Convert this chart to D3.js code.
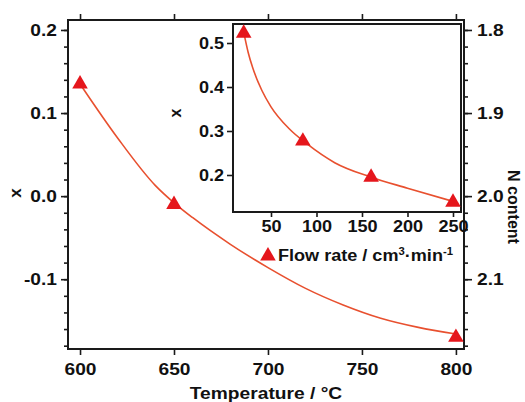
<!DOCTYPE html>
<html><head><meta charset="utf-8">
<script src="https://cdn.jsdelivr.net/npm/d3@7"></script>
<style>
html,body{margin:0;padding:0;background:#fff;}
text{font-family:"Liberation Sans",Arial,sans-serif;font-weight:bold;fill:#111;}
</style></head>
<body>
<svg id="c" width="525" height="402"></svg>
<script>
// ---- data ----
const mainT = [600, 650, 700, 800];
const mainX = [0.135, -0.010, -0.072, -0.170];
const fitT = [600, 620, 640, 650, 660, 680, 700, 720, 740, 760, 780, 800];
const fitX = [0.135, 0.070, 0.013, -0.008, -0.026, -0.058, -0.086, -0.111, -0.131, -0.147, -0.158, -0.166];
const flow = [20, 85, 160, 250];
const flowX = [0.522, 0.277, 0.195, 0.138];
const fitFlow = [20, 25, 30, 40, 50, 70, 90, 120, 160, 200, 250];
const fitFlowX = [0.525, 0.478, 0.443, 0.392, 0.355, 0.305, 0.270, 0.228, 0.195, 0.170, 0.140];
const tTicks = [600, 650, 700, 750, 800];
const xTicks = [-0.1, 0.0, 0.1, 0.2];
const nTicks = [1.8, 1.9, 2.0, 2.1];
const flowTicks = [50, 100, 150, 200, 250];
const insetXTicks = [0.2, 0.3, 0.4, 0.5];

const svg = d3.select("#c");
const STRETCH = 1.13;
const lineCol = "#e8502f", markCol = "#e5161c", frameCol = "#1a1a1a";

// main layout
const M = {l: 68, r: 464, t: 20, b: 349};
const x = d3.scaleLinear().domain([593.6, 804.3]).range([M.l, M.r]);
const y = d3.scaleLinear().domain([-0.184, 0.212]).range([M.b, M.t]);
const yN = d3.scaleLinear().domain([1.788, 2.184]).range([M.t, M.b]);

const fmt1 = d => d.toFixed(1);
const minorX = d3.range(-0.18, 0.2101, 0.02).map(v => +v.toFixed(2));
const minorN = d3.range(1.80, 2.181, 0.02).map(v => +v.toFixed(2));

function style(g, size) {
  g.select(".domain").remove();
  g.selectAll("line").attr("stroke", frameCol).attr("stroke-width", 1.6);
  g.selectAll("text").attr("font-size", size).attr("class", "h");
}

// left axis
svg.append("g").attr("transform", `translate(${M.l},0)`)
  .call(d3.axisLeft(y).tickValues(minorX).tickSize(4).tickFormat(""))
  .call(g => style(g, 17));
svg.append("g").attr("transform", `translate(${M.l},0)`)
  .call(d3.axisLeft(y).tickValues(xTicks).tickSize(7).tickPadding(4).tickFormat(fmt1))
  .call(g => style(g, 17));
// right axis
svg.append("g").attr("transform", `translate(${M.r},0)`)
  .call(d3.axisRight(yN).tickValues(minorN).tickSize(4).tickFormat(""))
  .call(g => style(g, 17));
svg.append("g").attr("transform", `translate(${M.r},0)`)
  .call(d3.axisRight(yN).tickValues(nTicks).tickSize(8).tickPadding(5).tickFormat(fmt1))
  .call(g => style(g, 17));
// bottom axis
svg.append("g").attr("transform", `translate(0,${M.b})`)
  .call(d3.axisBottom(x).tickValues(tTicks).tickSize(6).tickPadding(8).tickFormat(d3.format("d")))
  .call(g => style(g, 17));
// top ticks
svg.append("g").attr("transform", `translate(0,${M.t})`)
  .call(d3.axisTop(x).tickValues(tTicks).tickSize(6).tickFormat(""))
  .call(g => style(g, 17));

// frame
svg.append("rect").attr("x", M.l).attr("y", M.t).attr("width", M.r - M.l).attr("height", M.b - M.t)
  .attr("fill", "none").attr("stroke", frameCol).attr("stroke-width", 2);

// main curve
const line = d3.line().x((d, i) => x(fitT[i])).y(d => y(d)).curve(d3.curveMonotoneX);
svg.append("path").datum(fitX).attr("d", line).attr("fill", "none")
  .attr("stroke", lineCol).attr("stroke-width", 1.6);
const tri = d3.symbol().type(d3.symbolTriangle).size(105);
svg.selectAll(".m1").data(mainT).join("path").attr("class", "m1")
  .attr("transform", (d, i) => `translate(${x(d)},${y(mainX[i])})`)
  .attr("d", tri).attr("fill", markCol);

// axis titles
svg.append("text").attr("class", "h").attr("x", 266).attr("y", 399).attr("text-anchor", "middle")
  .attr("font-size", 17).text("Temperature / °C");
svg.append("text").attr("transform", "translate(21,193) rotate(-90)").attr("text-anchor", "middle")
  .attr("font-size", 17).text("x");
svg.append("text").attr("transform", "translate(508,207) rotate(90)").attr("text-anchor", "middle")
  .attr("font-size", 16).text("N content");

// ---- inset ----
const I = {l: 233, r: 461, t: 24, b: 212};
const ix = d3.scaleLinear().domain([8.24, 258.8]).range([I.l, I.r]);
const iy = d3.scaleLinear().domain([0.1159, 0.5432]).range([I.b, I.t]);
svg.append("rect").attr("x", I.l).attr("y", I.t).attr("width", I.r - I.l).attr("height", I.b - I.t)
  .attr("fill", "#fff").attr("stroke", "none");
svg.append("g").attr("transform", `translate(${I.l},0)`)
  .call(d3.axisLeft(iy).tickValues(insetXTicks).tickSize(6).tickPadding(3).tickFormat(fmt1))
  .call(g => style(g, 16));
svg.append("g").attr("transform", `translate(0,${I.b})`)
  .call(d3.axisBottom(ix).tickValues(flowTicks).tickSize(5).tickPadding(4).tickFormat(d3.format("d")))
  .call(g => style(g, 16));
svg.append("rect").attr("x", I.l).attr("y", I.t).attr("width", I.r - I.l).attr("height", I.b - I.t)
  .attr("fill", "none").attr("stroke", frameCol).attr("stroke-width", 2);
const iline = d3.line().x((d, i) => ix(fitFlow[i])).y(d => iy(d)).curve(d3.curveMonotoneX);
svg.append("path").datum(fitFlowX).attr("d", iline).attr("fill", "none")
  .attr("stroke", lineCol).attr("stroke-width", 1.6);
svg.selectAll(".m2").data(flow).join("path").attr("class", "m2")
  .attr("transform", (d, i) => `translate(${ix(d)},${iy(flowX[i])})`)
  .attr("d", tri).attr("fill", markCol);
svg.append("text").attr("transform", "translate(181,113) rotate(-90)").attr("text-anchor", "middle")
  .attr("font-size", 16).text("x");
const ft = svg.append("text").attr("class", "h").attr("x", 278).attr("y", 261).attr("font-size", 16);
ft.append("tspan").text("Flow rate / cm");
ft.append("tspan").attr("font-size", 10).attr("dy", -6).text("3");
ft.append("tspan").attr("dy", 6).text("·min");
ft.append("tspan").attr("font-size", 10).attr("dy", -6).text("-1");

// horizontal stretch of upright text
svg.selectAll("text.h").each(function () {
  const t = d3.select(this);
  const xv = +(t.attr("x") || 0);
  t.attr("x", xv / STRETCH).attr("transform", `scale(${STRETCH},1)`);
});
</script>
</body></html>
